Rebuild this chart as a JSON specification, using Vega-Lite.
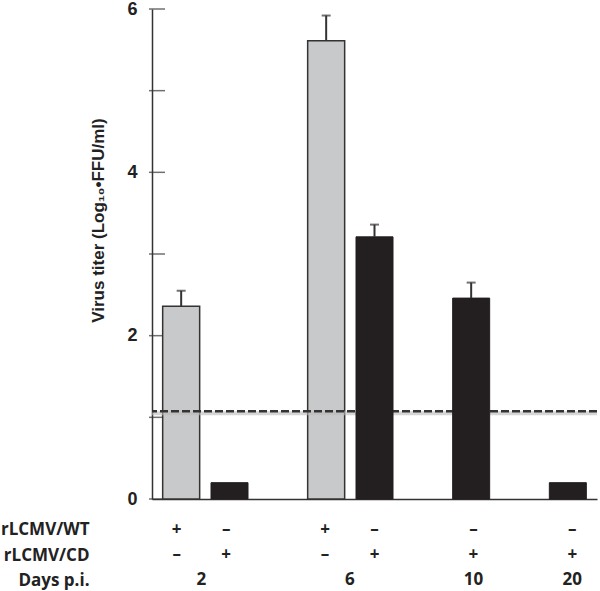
{
  "$schema": "https://vega.github.io/schema/vega-lite/v6.json",
  "padding": {"left": 0, "top": 0, "right": 5, "bottom": 0},
  "background": "white",
  "spacing": 9,
  "config": {
    "view": {"stroke": null},
    "font": "Open Sans"
  },
  "datasets": {
    "bars": [
      {"pos": 1, "virus": "rLCMV/WT", "titer": 2.36, "upper": 2.55},
      {"pos": 2, "virus": "rLCMV/CD", "titer": 0.2, "upper": null},
      {"pos": 4, "virus": "rLCMV/WT", "titer": 5.61, "upper": 5.92},
      {"pos": 5, "virus": "rLCMV/CD", "titer": 3.21, "upper": 3.36},
      {"pos": 7, "virus": "rLCMV/CD", "titer": 2.46, "upper": 2.65},
      {"pos": 9, "virus": "rLCMV/CD", "titer": 0.2, "upper": null}
    ],
    "limit": [{"detection": 1.076}],
    "yticks": [{"v": 0}, {"v": 1}, {"v": 2}, {"v": 3}, {"v": 4}, {"v": 5}, {"v": 6}],
    "table": [
      {"pos": 1, "row": "rLCMV/WT", "label": "+"},
      {"pos": 2, "row": "rLCMV/WT", "label": "–"},
      {"pos": 4, "row": "rLCMV/WT", "label": "+"},
      {"pos": 5, "row": "rLCMV/WT", "label": "–"},
      {"pos": 7, "row": "rLCMV/WT", "label": "–"},
      {"pos": 9, "row": "rLCMV/WT", "label": "–"},
      {"pos": 1, "row": "rLCMV/CD", "label": "–"},
      {"pos": 2, "row": "rLCMV/CD", "label": "+"},
      {"pos": 4, "row": "rLCMV/CD", "label": "–"},
      {"pos": 5, "row": "rLCMV/CD", "label": "+"},
      {"pos": 7, "row": "rLCMV/CD", "label": "+"},
      {"pos": 9, "row": "rLCMV/CD", "label": "+"},
      {"pos": 1.5, "row": "Days p.i.", "label": "2"},
      {"pos": 4.5, "row": "Days p.i.", "label": "6"},
      {"pos": 7, "row": "Days p.i.", "label": "10"},
      {"pos": 9, "row": "Days p.i.", "label": "20"}
    ]
  },
  "vconcat": [
    {
      "width": 445,
      "height": 490,
      "layer": [
        {
          "data": {"name": "yticks"},
          "mark": {"type": "tick", "orient": "horizontal", "size": 16, "thickness": 1.5, "color": "#333"},
          "encoding": {
            "x": {"datum": 0.5, "type": "quantitative"},
            "y": {"field": "v", "type": "quantitative"}
          }
        },
        {
          "data": {"name": "bars"},
          "transform": [{"filter": "datum.virus == 'rLCMV/WT'"}],
          "mark": {"type": "bar", "width": 37, "color": "#c8c9cb", "stroke": "#333", "strokeWidth": 1.5},
          "encoding": {
            "x": {
              "field": "pos", "type": "quantitative",
              "scale": {"domain": [0.5, 9.5], "nice": false, "zero": false},
              "axis": {"labels": false, "ticks": false, "grid": false, "title": null, "domain": true, "domainColor": "#333", "domainWidth": 1.5}
            },
            "y": {
              "field": "titer", "type": "quantitative",
              "scale": {"domain": [0, 6], "nice": false},
              "title": "Virus titer (Log₁₀•FFU/ml)",
              "axis": {
                "values": [0, 2, 4, 6], "format": "d", "ticks": false, "grid": false,
                "domainColor": "#333", "domainWidth": 1.5,
                "labelFont": "Liberation Sans", "labelFontWeight": "bold", "labelFontSize": 18, "labelColor": "#222",
                "labelPadding": 15,
                "titleFont": "Liberation Sans", "titleFontWeight": "bold", "titleFontSize": 17, "titleColor": "#222",
                "titlePadding": 19, "titleY": 211
              }
            }
          }
        },
        {
          "data": {"name": "limit"},
          "mark": {"type": "rule", "strokeWidth": 4, "color": "#bbbbbb", "opacity": 0.6, "yOffset": 2},
          "encoding": {"y": {"field": "detection", "type": "quantitative"}}
        },
        {
          "data": {"name": "limit"},
          "mark": {"type": "rule", "strokeWidth": 2.5, "color": "#333", "strokeDash": [8, 3]},
          "encoding": {"y": {"field": "detection", "type": "quantitative"}}
        },
        {
          "data": {"name": "bars"},
          "transform": [{"filter": "datum.virus == 'rLCMV/CD'"}],
          "mark": {"type": "bar", "width": 37, "color": "#231f20", "stroke": "#231f20", "strokeWidth": 1},
          "encoding": {
            "x": {"field": "pos", "type": "quantitative"},
            "y": {"field": "titer", "type": "quantitative"}
          }
        },
        {
          "data": {"name": "bars"},
          "transform": [{"filter": "datum.upper != null"}],
          "mark": {"type": "rule", "strokeWidth": 2, "color": "#333"},
          "encoding": {
            "x": {"field": "pos", "type": "quantitative"},
            "y": {"field": "titer", "type": "quantitative"},
            "y2": {"field": "upper"}
          }
        },
        {
          "data": {"name": "bars"},
          "transform": [{"filter": "datum.upper != null"}],
          "mark": {"type": "tick", "orient": "horizontal", "size": 9, "thickness": 2, "color": "#333"},
          "encoding": {
            "x": {"field": "pos", "type": "quantitative"},
            "y": {"field": "upper", "type": "quantitative"}
          }
        }
      ]
    },
    {
      "width": 445,
      "height": 76,
      "data": {"name": "table"},
      "mark": {"type": "text", "font": "Open Sans", "fontWeight": "bold", "fontSize": 17, "color": "#222", "baseline": "middle"},
      "encoding": {
        "x": {
          "field": "pos", "type": "quantitative",
          "scale": {"domain": [0.5, 9.5], "nice": false, "zero": false},
          "axis": null
        },
        "y": {
          "field": "row", "type": "ordinal",
          "scale": {"type": "point", "domain": ["rLCMV/WT", "rLCMV/CD", "Days p.i."], "padding": 0.5},
          "axis": {
            "title": null, "domain": false, "ticks": false,
            "labelFont": "Open Sans", "labelFontWeight": "bold", "labelFontSize": 17, "labelColor": "#222",
            "labelPadding": 63
          }
        },
        "text": {"field": "label"}
      }
    }
  ]
}
